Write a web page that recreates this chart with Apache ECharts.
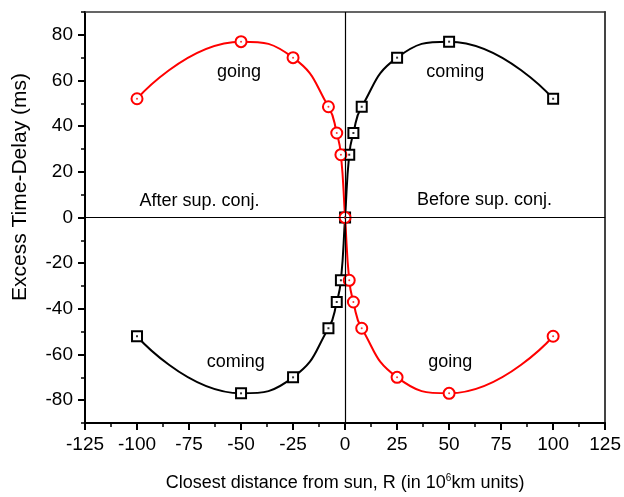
<!DOCTYPE html>
<html><head><meta charset="utf-8">
<script src="https://cdn.jsdelivr.net/npm/echarts@6/dist/echarts.min.js"></script>
<style>html,body{margin:0;padding:0;background:#fff}#c{width:624px;height:497px}</style>
</head><body><div id="c"></div>
<script>
var distances = [-100, -50, -25, -8, -4, -2, 0, 2, 4, 8, 25, 50, 100];
var comingDelay = [-52, -77, -70, -48.5, -37, -27.5, 0, 27.5, 37, 48.5, 70, 77, 52];
var goingDelay = [52, 77, 70, 48.5, 37, 27.5, 0, -27.5, -37, -48.5, -70, -77, -52];
var xTicks = [-125, -100, -75, -50, -25, 0, 25, 50, 75, 100, 125];
var yTicks = [-80, -60, -40, -20, 0, 20, 40, 60, 80];
var noteTexts = ['going', 'coming', 'After sup. conj.', 'Before sup. conj.', 'coming', 'going'];
var noteX = [-51, 53, -70, 67, -52.5, 50.6];
var noteY = [63.5, 63.5, 7.3, 7.7, -63.5, -63.5];

var FONT = 'Liberation Sans, Arial, sans-serif';
function pts(ys){ return distances.map(function(x,i){ return [x, ys[i]]; }); }
var chart = echarts.init(document.getElementById('c'), null, {renderer:'canvas'});

chart.setOption({
  animation:false,
  backgroundColor:'#fff',
  grid:{left:85, right:17, top:12, bottom:70},
  xAxis:[{
    type:'value', min:-125, max:125, interval:25, position:'bottom',
    axisLine:{onZero:false, lineStyle:{color:'#000', width:2}},
    axisTick:{show:true, length:7, lineStyle:{color:'#000', width:2}},
    minorTick:{show:true, splitNumber:2, length:4, lineStyle:{color:'#000', width:1.5}},
    splitLine:{show:false},
    axisLabel:{color:'#000', fontFamily:FONT, fontSize:19, margin:12,
      formatter:function(v){ return xTicks.indexOf(v)>=0 ? String(v) : ''; }},
    name:'{a|Closest distance from sun, R (in 10}{s|6}{a|km units)}',
    nameLocation:'middle', nameGap:50,
    nameTextStyle:{rich:{a:{fontFamily:FONT, fontSize:18, color:'#000'}, s:{fontFamily:FONT, fontSize:10, color:'#000', verticalAlign:'top', padding:[0,0,10,0]}}}
  },{
    type:'value', min:-125, max:125, interval:25, position:'top',
    axisLine:{onZero:false, lineStyle:{color:'#333', width:1.5}},
    axisTick:{show:false}, axisLabel:{show:false}, splitLine:{show:false}
  }],
  yAxis:[{
    type:'value', min:-90, max:90, interval:10, position:'left',
    axisLine:{onZero:false, lineStyle:{color:'#000', width:2}},
    axisTick:{show:true, length:7, lineStyle:{color:'#000', width:2}, customValues: yTicks},
    splitLine:{show:false},
    axisLabel:{color:'#000', fontFamily:FONT, fontSize:19, margin:12, customValues: yTicks,
      formatter:function(v){ return yTicks.indexOf(v)>=0 ? String(v) : ''; }}
  },{
    type:'value', min:-90, max:90, interval:10, position:'left',
    axisLine:{show:false, onZero:false},
    axisTick:{show:true, length:4, lineStyle:{color:'#000', width:1.5}},
    axisLabel:{show:false}, splitLine:{show:false}
  },{
    type:'value', min:-90, max:90, position:'right',
    axisLine:{onZero:false, lineStyle:{color:'#444', width:2}},
    axisTick:{show:false}, axisLabel:{show:false}, splitLine:{show:false}
  }],
  series:[
    {type:'line', data:pts(comingDelay), smooth:0.5,
     symbol:'rect', symbolSize:10, showSymbol:true,
     lineStyle:{color:'#000', width:2},
     itemStyle:{color:'#fff', borderColor:'#000', borderWidth:2}, z:3,
     markLine:{silent:true, symbol:'none', label:{show:false}, animation:false,
       lineStyle:{color:'#000', width:1.2, type:'solid'},
       data:[{xAxis:0},{yAxis:0}]}},
    {type:'line', data:pts(goingDelay), smooth:0.5,
     symbol:'circle', symbolSize:11, showSymbol:true,
     lineStyle:{color:'#ff0000', width:2},
     itemStyle:{color:'#fff', borderColor:'#ff0000', borderWidth:2}, z:4},
    {type:'scatter', data:pts(comingDelay), symbol:'rect', symbolSize:2, itemStyle:{color:'#000'}, z:5},
    {type:'scatter', data:pts(goingDelay), symbol:'circle', symbolSize:2, itemStyle:{color:'#ff0000'}, z:6}
  ]
});

var g = [{
  type:'text', x:20, y:187, rotation:Math.PI/2,
  style:{text:'Excess Time-Delay (ms)', font:'21px '+FONT, fill:'#000', textAlign:'center', textVerticalAlign:'middle'}
}];
noteTexts.forEach(function(t,i){
  var p = chart.convertToPixel({xAxisIndex:0, yAxisIndex:0}, [noteX[i], noteY[i]]);
  g.push({type:'text', x:p[0], y:p[1], z:10,
    style:{text:t, font:'18px '+FONT, fill:'#000', textAlign:'center', textVerticalAlign:'middle'}});
});
chart.setOption({graphic:g});
</script></body></html>
